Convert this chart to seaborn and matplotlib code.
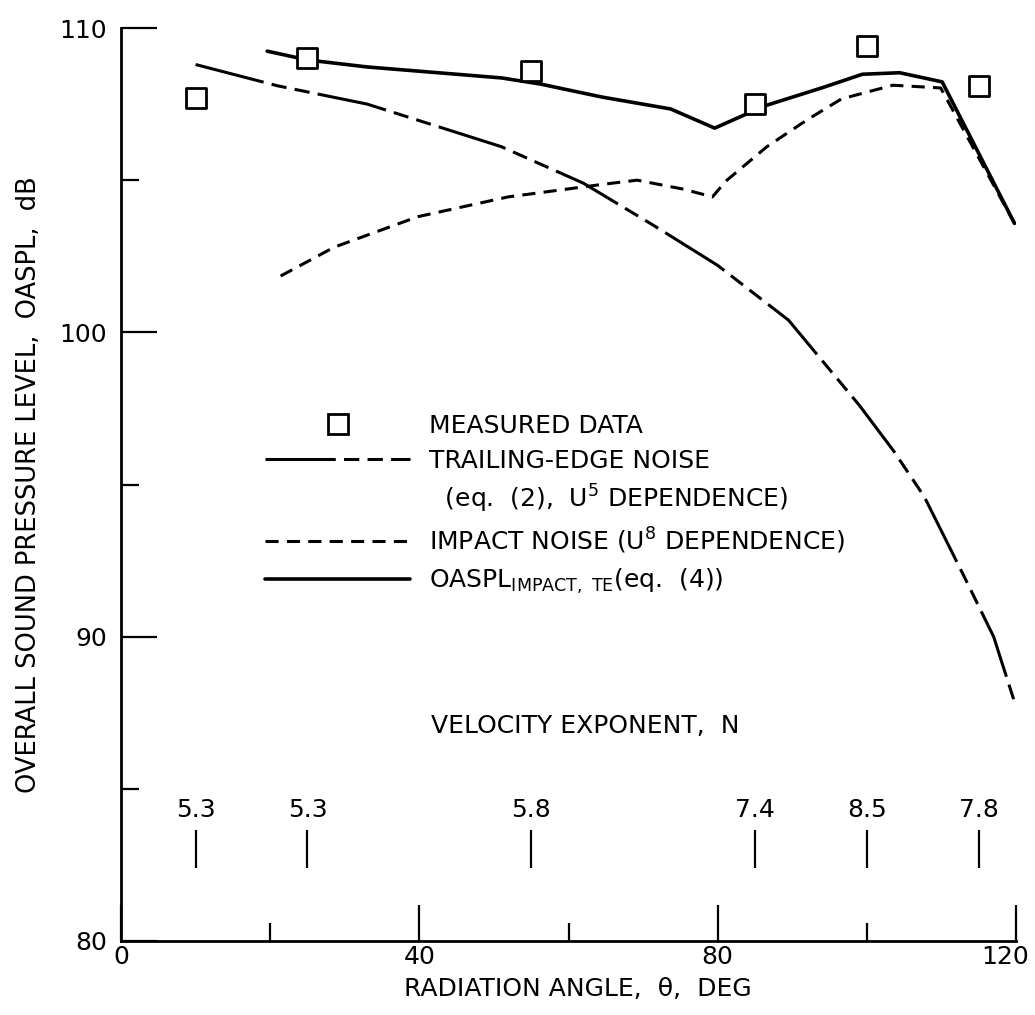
import numpy as np
import pandas as pd
import matplotlib
matplotlib.use('Agg')
import matplotlib.pyplot as plt
from matplotlib.lines import Line2D
from matplotlib.transforms import ScaledTranslation
import seaborn as sns

# Messwerte (Quadrate)
angle_measured = [10, 25, 55, 85, 100, 115]
oaspl_measured = [107.7, 109.0, 108.6, 107.5, 109.4, 108.1]

# Hinterkanten-Lärm (U^5)
te_angle = [10, 21, 33, 42, 51, 62, 71.5, 80, 89.5, 99, 103.6, 107.7, 113, 117, 120]
te_level = [108.8, 108.1, 107.5, 106.8, 106.1, 104.9, 103.5, 102.2, 100.4, 97.6, 96.1, 94.6, 92.0, 90.0, 87.7]

# Aufprall-Lärm (U^8)
imp_angle = [21.4, 28.6, 39.8, 51.9, 64.5, 69.2, 75.5, 79.3, 81.1, 86.6, 92.1, 96.6, 103.5, 109.9, 119.8]
imp_level = [101.85, 102.8, 103.8, 104.45, 104.86, 105.0, 104.7, 104.45, 104.97, 106.1, 107.0, 107.67, 108.12, 108.03, 103.58]

# Summe OASPL (eq. 4)
oaspl_angle = [19.6, 25, 33, 51, 56.2, 64.5, 73.7, 79.6, 86.3, 94.3, 99.4, 104.4, 110.1, 119.8]
oaspl_level = [109.24, 108.95, 108.72, 108.36, 108.16, 107.73, 107.34, 106.71, 107.44, 108.06, 108.48, 108.53, 108.23, 103.58]

# Geschwindigkeitsexponent N
vel_angle = [10, 25, 55, 85, 100, 115]
vel_exponent = ['5.3', '5.3', '5.8', '7.4', '8.5', '7.8']

sns.set_style('ticks')
plt.rcParams['font.family'] = ['DejaVu Sans']
for k in ['text.color', 'axes.labelcolor', 'xtick.color', 'ytick.color', 'axes.edgecolor']:
    plt.rcParams[k] = 'black'

te_style = (0, (23, 2.7, 5, 2.7, 5, 2.7))
imp_style = (0, (4.3, 2.7))

fig, ax = plt.subplots(figsize=(10.35, 10.15), dpi=100)
fig.subplots_adjust(left=121/1035, right=1016/1035, bottom=1-941/1015, top=1-28/1015)

sns.lineplot(x=te_angle, y=te_level, ax=ax, color='black', lw=2.2,
             linestyle=te_style, sort=False, estimator=None)
sns.lineplot(x=imp_angle, y=imp_level, ax=ax, color='black', lw=2.2,
             linestyle=imp_style, sort=False, estimator=None)
sns.lineplot(x=oaspl_angle, y=oaspl_level, ax=ax, color='black', lw=2.6,
             sort=False, estimator=None)
sns.scatterplot(x=angle_measured, y=oaspl_measured, ax=ax, marker='s', s=225,
                facecolor='white', edgecolor='black', linewidth=2, zorder=5)

# Exponent-Markierungen
ax.vlines(vel_angle, 82.4, 83.65, color='black', lw=1.6)
for a, n in zip(vel_angle, vel_exponent):
    ax.text(a, 84.3, n, ha='center', va='center', fontsize=18)
ax.text(62.3, 87.05, 'VELOCITY EXPONENT,  N', ha='center', va='center', fontsize=18)

ax.set_xlim(0, 120)
ax.set_ylim(80, 110)
ax.set_xticks([0, 40, 80, 120])
ax.set_xticks([20, 60, 100], minor=True)
ax.set_yticks([80, 90, 100, 110])
ax.set_yticks([85, 95, 105], minor=True)
ax.tick_params(which='major', direction='in', length=26, width=1.6, labelsize=18, pad=3)
ax.tick_params(which='minor', direction='in', length=13, width=1.6)
ax.tick_params(axis='y', pad=10)
for sp in ['left', 'bottom']:
    ax.spines[sp].set_linewidth(2)
sns.despine(ax=ax)

# "120" etwas nach links, damit er nicht abgeschnitten wird
lbl = ax.get_xticklabels()[-1]
lbl.set_horizontalalignment('right')
lbl.set_transform(lbl.get_transform() + ScaledTranslation(0.13, 0, fig.dpi_scale_trans))

ax.set_xlabel('RADIATION ANGLE,  θ,  DEG', fontsize=18)
ax.set_ylabel('OVERALL SOUND PRESSURE LEVEL,  OASPL,  dB', fontsize=18.5)
ax.xaxis.set_label_coords(0.51, -0.039)
ax.yaxis.set_label_coords(-0.088, 0.50)

handles = [
    Line2D([], [], marker='s', ls='none', mfc='white', mec='black', ms=14, mew=2),
    Line2D([], [], color='black', lw=2.2, ls=te_style),
    Line2D([], [], ls='none'),
    Line2D([], [], color='black', lw=2.2, ls=imp_style),
    Line2D([], [], color='black', lw=2.6),
]
labels = [
    'MEASURED DATA',
    'TRAILING-EDGE NOISE',
    '  (eq.  (2),  U$^5$ DEPENDENCE)',
    'IMPACT NOISE (U$^8$ DEPENDENCE)',
    r'OASPL$_{\mathrm{IMPACT,\ TE}}$(eq.  (4))',
]
ax.legend(handles, labels, loc='upper left', bbox_to_anchor=(0.161, 0.577),
          frameon=False, fontsize=18, handlelength=5.8, handletextpad=0.75,
          labelspacing=0.42, borderpad=0, borderaxespad=0)

plt.savefig('out.png', dpi=100)
plt.close()
